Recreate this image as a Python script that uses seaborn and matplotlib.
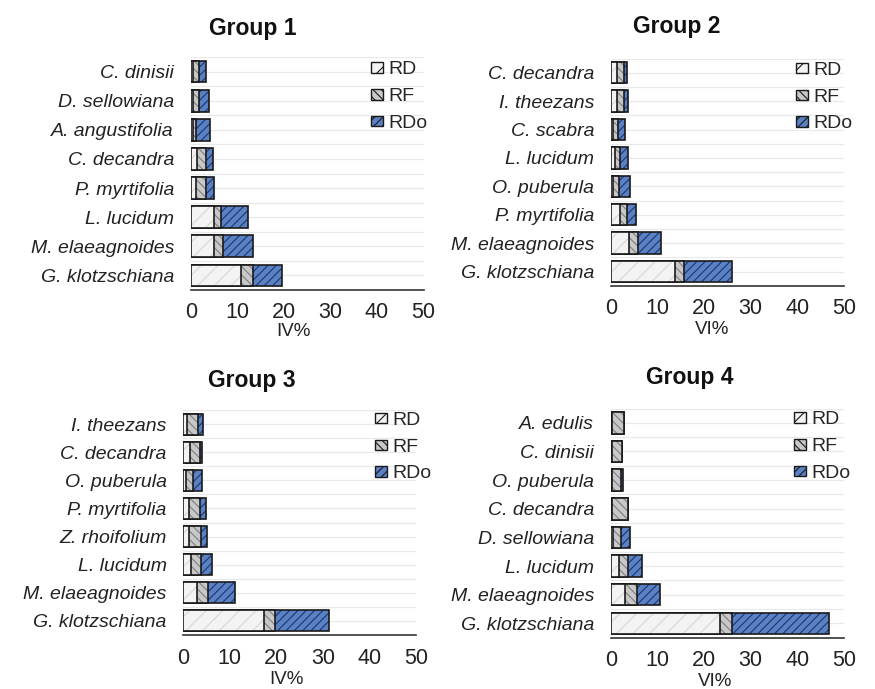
import pandas as pd
import matplotlib
matplotlib.use("Agg")
import matplotlib.pyplot as plt
from matplotlib.patches import Patch
from matplotlib.ticker import MultipleLocator
import seaborn as sb

# species per group, top to bottom
species_g1 = ["C. dinisii", "D. sellowiana", "A. angustifolia", "C. decandra",
              "P. myrtifolia", "L. lucidum", "M. elaeagnoides", "G. klotzschiana"]
rd_g1 = [0.6, 0.6, 0.4, 1.4, 1.2, 4.9, 5.0, 10.7]
rf_g1 = [1.2, 1.1, 0.8, 1.9, 2.0, 1.6, 2.0, 2.7]
rdo_g1 = [1.5, 2.2, 2.9, 1.4, 1.9, 5.7, 6.4, 6.2]

species_g2 = ["C. decandra", "I. theezans", "C. scabra", "L. lucidum",
              "O. puberula", "P. myrtifolia", "M. elaeagnoides", "G. klotzschiana"]
rd_g2 = [1.3, 1.3, 0.6, 0.9, 0.4, 2.1, 3.9, 13.8]
rf_g2 = [1.6, 1.6, 1.0, 1.2, 1.3, 1.3, 1.9, 1.9]
rdo_g2 = [0.7, 0.8, 1.5, 1.6, 2.4, 2.0, 4.9, 10.3]

species_g3 = ["I. theezans", "C. decandra", "O. puberula", "P. myrtifolia",
              "Z. rhoifolium", "L. lucidum", "M. elaeagnoides", "G. klotzschiana"]
rd_g3 = [0.9, 1.4, 0.5, 1.2, 1.2, 1.6, 3.0, 17.3]
rf_g3 = [2.2, 2.2, 1.6, 2.3, 2.5, 2.3, 2.4, 2.4]
rdo_g3 = [1.2, 0.4, 1.9, 1.4, 1.4, 2.3, 5.7, 11.6]

species_g4 = ["A. edulis", "C. dinisii", "O. puberula", "C. decandra",
              "D. sellowiana", "L. lucidum", "M. elaeagnoides", "G. klotzschiana"]
rd_g4 = [0.3, 0.3, 0.3, 0.3, 0.5, 1.8, 3.0, 23.4]
rf_g4 = [2.4, 2.1, 1.8, 3.3, 1.6, 1.8, 2.6, 2.5]
rdo_g4 = [0.0, 0.0, 0.4, 0.05, 2.0, 3.1, 4.9, 20.9]

titles = ["Group 1", "Group 2", "Group 3", "Group 4"]
xlabels = ["IV%", "VI%", "IV%", "VI%"]

sb.set_style("white")
plt.rcParams["font.family"] = ["Liberation Sans", "DejaVu Sans"]
plt.rcParams["hatch.linewidth"] = 0.8

# face colour, hatch colour, hatch pattern
styles = {
    "RD": ("#f3f3f3", "#d6d6d6", "//"),
    "RF": ("#c8c8c8", "#7f7f7f", "\\\\\\\\"),
    "RDo": ("#5a80c6", "#1d3766", "////"),
}
edge = "#1a1a1a"

fig = plt.figure(figsize=(8.75, 6.89), dpi=100)

# axes boxes in pixels: left, top, right, bottom
boxes = [(190.7, 57, 423.5, 290), (610.7, 58.5, 843.7, 285.7),
         (183.3, 410, 416, 635), (611, 408.5, 843.7, 637.7)]
title_pos = [(253, 28), (677, 27), (252, 381), (690, 378)]
xlab_x = [0.44, 0.435, 0.445, 0.447]
xlab_y = [331, 330, 680, 682]
# legend: right overhang and top gap in pixels
leg_dx = [4, 9, 16, 7]
leg_dy = [4.5, 3.5, 2, 3]

groups = [
    (species_g1, rd_g1, rf_g1, rdo_g1),
    (species_g2, rd_g2, rf_g2, rdo_g2),
    (species_g3, rd_g3, rf_g3, rdo_g3),
    (species_g4, rd_g4, rf_g4, rdo_g4),
]

W, H = 875, 689
for i, (sp, rd, rf, rdo) in enumerate(groups):
    l, t, r, b = boxes[i]
    ax = fig.add_axes([l / W, 1 - b / H, (r - l) / W, (b - t) / H])
    df = pd.DataFrame({"species": sp, "RD": rd, "RF": rf, "RDo": rdo})
    df["RD+RF"] = df["RD"] + df["RF"]
    df["total"] = df["RD+RF"] + df["RDo"]

    # stacked look: draw the longest layer first, shorter ones on top
    for col, key in [("total", "RDo"), ("RD+RF", "RF"), ("RD", "RD")]:
        face, hcol, hatch = styles[key]
        n0 = len(ax.patches)
        sb.barplot(data=df, x=col, y="species", order=sp, color=face,
                   saturation=1, width=0.75, ax=ax)
        for p in ax.patches[n0:]:
            p.set_facecolor(face)
            p.set_edgecolor(hcol)
            p.set_hatch(hatch)
            p.set_linewidth(0)
        n1 = len(ax.patches)
        sb.barplot(data=df, x=col, y="species", order=sp, color=edge,
                   fill=False, width=0.75, ax=ax)
        for p in ax.patches[n1:]:
            p.set_facecolor("none")
            p.set_edgecolor(edge)
            p.set_linewidth(1.2)
            p.set_hatch(None)

    ax.set_xlim(0, 50)
    ax.set_ylim(7.5, -0.5)
    ax.xaxis.set_major_locator(MultipleLocator(10))
    ax.yaxis.set_minor_locator(MultipleLocator(0.5))
    ax.grid(axis="y", which="both", color="#e9e9e9", linewidth=0.9)
    ax.grid(axis="x", visible=False)
    ax.set_axisbelow(True)
    for s in ["top", "right", "left"]:
        ax.spines[s].set_visible(False)
    ax.spines["bottom"].set_color("#333333")
    ax.spines["bottom"].set_linewidth(1.2)
    ax.tick_params(axis="x", direction="out", length=5, width=1.2,
                   color="#333333", labelsize=15.5, labelcolor="#222222", pad=4)
    ax.tick_params(axis="y", which="both", length=0, pad=12, labelsize=14,
                   labelcolor="#222222")
    for lab in ax.get_yticklabels():
        lab.set_style("italic")
    ax.set_ylabel("")
    ax.set_xlabel(xlabels[i], fontsize=13.5, color="#222222")
    ax.xaxis.set_label_coords(xlab_x[i], 1 - (xlab_y[i] - t) / (b - t))
    ax.xaxis.label.set_va("center")

    handles = [Patch(facecolor=styles[k][0], edgecolor=edge, hatch=styles[k][2],
                     linewidth=1.0, label=k) for k in ["RD", "RF", "RDo"]]
    ax.legend(handles=handles, loc="upper right",
              bbox_to_anchor=(1 + leg_dx[i] / (r - l), 1 - leg_dy[i] / (b - t)),
              frameon=False, fontsize=14, handlelength=0.6, handleheight=0.46,
              handletextpad=0.3, labelspacing=0.5, borderpad=0, borderaxespad=0)

    fig.text(title_pos[i][0] / W, 1 - title_pos[i][1] / H, titles[i],
             ha="center", va="center", fontsize=16.5, fontweight="bold",
             color="#111111")

fig.savefig("out.png", dpi=100)
